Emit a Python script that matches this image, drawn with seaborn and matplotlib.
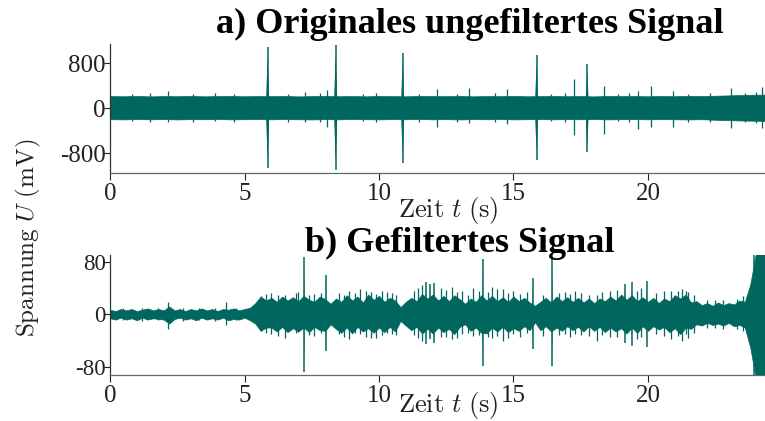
import numpy as np
import matplotlib
matplotlib.use("Agg")
import matplotlib.pyplot as plt
import seaborn as sns

# ---- data ----
# a) raw signal: band envelope sampled every 0.5 s (mV)
raw_step = 0.5
raw_upper = [215, 212, 218, 210, 216, 213, 219, 211, 215, 217,
             212, 216, 214, 218, 210, 215, 219, 213, 216, 211,
             217, 214, 212, 218, 215, 213, 219, 211, 216, 214,
             218, 212, 215, 217, 213, 216, 210, 218, 214, 215,
             212, 217, 213, 219, 216, 222, 228, 235, 240, 242]
raw_lower = [195, 198, 192, 197, 193, 199, 194, 196, 191, 198,
             195, 193, 197, 192, 196, 199, 194, 197, 192, 195,
             198, 193, 196, 191, 197, 194, 199, 193, 196, 192,
             198, 195, 193, 197, 194, 196, 192, 198, 195, 193,
             197, 194, 196, 199, 195, 205, 212, 218, 222, 225]
# spikes in the raw signal: time (s), peak up, peak down (mV)
raw_spike_t = [2.17, 5.86, 7.25, 8.05, 8.39, 10.88, 12.17, 13.36, 14.77, 15.86,
               17.26, 17.74, 18.36, 19.64, 20.10, 20.92, 23.10, 24.22,
               0.8, 1.5, 3.1, 3.9, 4.6, 6.6, 7.8, 9.4, 9.9, 11.5, 12.9,
               14.3, 16.4, 16.9, 18.9, 19.3, 21.5, 22.3, 23.6, 24.0]
raw_spike_up = [313, 1085, 285, 331, 1114, 984, 343, 356, 343, 936,
                521, 788, 402, 313, 391, 313, 356, 374,
                250, 262, 255, 270, 248, 258, 266, 252, 275, 260, 256,
                268, 254, 262, 250, 272, 258, 264, 270, 280]
raw_spike_down = [-249, -1068, -250, -338, -1093, -974, -338, -262, -280, -914,
                  -475, -772, -457, -368, -338, -338, -356, -356,
                  -232, -240, -236, -228, -244, -238, -250, -230, -242, -236, -246,
                  -240, -234, -248, -232, -238, -244, -240, -252, -260]

# b) filtered signal: band envelope sampled every 0.2 s (mV)
filt_step = 0.2
filt_upper = [7, 5, 8, 6, 8, 5, 7, 9, 6, 8,
              6, 12, 6, 8, 5, 8, 6, 9, 6, 8,
              5, 8, 7, 9, 6, 8, 10, 17, 27, 21,
              25, 19, 27, 21, 26, 20, 28, 22, 19, 27,
              23, 16, 24, 19, 29, 21, 27, 18, 30, 22,
              28, 19, 25, 21, 11, 19, 25, 20, 31, 24,
              30, 21, 28, 20, 29, 23, 16, 24, 19, 29,
              21, 28, 20, 26, 19, 27, 20, 25, 18, 13,
              19, 25, 18, 27, 20, 26, 19, 25, 18, 24,
              17, 24, 20, 27, 21, 30, 22, 29, 20, 26,
              19, 25, 17, 24, 20, 29, 24, 30, 18, 20,
              14, 17, 13, 18, 14, 17, 15, 21, 19, 45,
              90, 95, 95]
filt_lower = [6, 8, 5, 8, 6, 9, 5, 8, 6, 7,
              8, 14, 7, 5, 8, 6, 9, 5, 8, 6,
              8, 5, 9, 7, 8, 5, 9, 14, 25, 20,
              20, 26, 19, 27, 21, 26, 20, 27, 19, 24,
              25, 15, 22, 28, 20, 29, 19, 26, 21, 28,
              20, 27, 19, 26, 10, 17, 24, 19, 29, 22,
              29, 20, 27, 22, 30, 19, 15, 25, 20, 28,
              29, 20, 26, 19, 27, 21, 25, 18, 24, 12,
              24, 18, 26, 20, 25, 18, 24, 19, 26, 18,
              25, 19, 27, 20, 26, 21, 29, 20, 28, 18,
              25, 18, 23, 19, 27, 21, 30, 20, 22, 15,
              17, 13, 16, 14, 17, 13, 18, 16, 20, 50,
              95, 95, 95]
filt_spike_t = [2.14, 4.31, 5.62, 7.22, 8.03, 6.0, 6.5, 6.9, 7.6, 8.5,
                8.9, 9.3, 9.7, 10.1, 10.5, 11.6, 11.75, 11.9, 12.05, 12.3,
                12.7, 13.1, 13.5, 13.85, 14.2, 14.6, 15.0, 15.71, 16.44, 16.9,
                17.5, 18.09, 18.6, 19.14, 19.39, 19.95, 20.6, 21.25, 21.4, 22.5,
                23.85, 23.95,
                5.8, 6.25, 7.0, 7.4, 7.85, 8.7, 9.1, 9.5, 9.9, 10.3,
                10.65, 11.3, 11.45, 12.5, 12.9, 13.3, 13.7, 14.05, 14.4, 14.8,
                15.25, 15.5, 16.1, 16.7, 17.1, 17.3, 17.8, 18.3, 18.85, 19.6,
                19.75, 20.3, 20.85, 21.1, 21.5, 21.7, 22.2, 22.8, 23.3, 23.55,
                0.5, 1.2, 1.8, 2.7, 3.3, 3.9, 4.7]
filt_spike_up = [19, 18, 28, 87, 60, 32, 30, 33, 31, 32,
                 35, 38, 34, 36, 33, 45, 49, 46, 48, 40,
                 42, 36, 40, 84, 42, 38, 35, 55, 87, 34,
                 33, 30, 36, 46, 49, 50, 35, 38, 36, 22,
                 46, 90,
                 31, 29, 34, 30, 32, 29, 33, 35, 31, 34,
                 30, 35, 40, 37, 34, 30, 36, 34, 38, 33,
                 31, 34, 30, 33, 31, 35, 29, 34, 37, 36,
                 40, 33, 35, 36, 34, 30, 22, 21, 24, 28,
                 10, 9, 10, 9, 10, 9, 10]
filt_spike_down = [-22, -16, -25, -87, -55, -30, -36, -28, -33, -30,
                   -38, -30, -36, -32, -30, -40, -45, -38, -43, -35,
                   -38, -30, -33, -78, -36, -40, -30, -53, -79, -30,
                   -32, -40, -34, -44, -48, -49, -33, -40, -30, -20,
                   -50, -92,
                   -29, -33, -27, -31, -29, -34, -28, -34, -36, -29,
                   -32, -31, -36, -34, -36, -28, -32, -35, -33, -36,
                   -34, -29, -33, -31, -35, -30, -33, -31, -35, -38,
                   -35, -30, -38, -33, -36, -28, -21, -22, -23, -26,
                   -9, -10, -9, -10, -9, -10, -9]

x_ticks = [0, 5, 10, 15, 20]
raw_yticks = [-800, 0, 800]
filt_yticks = [-80, 0, 80]

# ---- style ----
sns.set_theme(style="ticks")
plt.rcParams["font.family"] = ["Liberation Serif", "DejaVu Serif"]
plt.rcParams["mathtext.fontset"] = "cm"
teal = "#00675F"

fig = plt.figure(figsize=(7.65, 4.21), dpi=100)
ax_a = fig.add_axes([0.1438, 0.589, 0.8562, 0.3065])
ax_b = fig.add_axes([0.1438, 0.1093, 0.8562, 0.285])


def draw_signal(ax, step, upper, lower, sp_t, sp_up, sp_down, big_w):
    t = np.arange(len(upper)) * step
    ax.fill_between(t, upper, -np.asarray(lower), color=teal, linewidth=0.5,
                    edgecolor=teal)
    sp_t = np.asarray(sp_t)
    sp_up = np.asarray(sp_up)
    sp_down = np.asarray(sp_down)
    big = sp_up > 0.5 * sp_up.max()
    ax.vlines(sp_t[~big], sp_down[~big], sp_up[~big], color=teal, linewidth=0.9)
    ax.vlines(sp_t[big], sp_down[big], sp_up[big], color=teal, linewidth=1.1)
    # tapered base of the large spikes
    for tt, up, dn in zip(sp_t[big], sp_up[big], sp_down[big]):
        ax.fill([tt - big_w, tt, tt + big_w], [0, up * 0.85, 0], color=teal, lw=0)
        ax.fill([tt - big_w, tt, tt + big_w], [0, dn * 0.85, 0], color=teal, lw=0)


draw_signal(ax_a, raw_step, raw_upper, raw_lower,
            raw_spike_t, raw_spike_up, raw_spike_down, 0.07)
draw_signal(ax_b, filt_step, filt_upper, filt_lower,
            filt_spike_t, filt_spike_up, filt_spike_down, 0.02)

ax_a.set_ylim(-1150, 1140)
ax_b.set_ylim(-92, 90)
for ax, yt, yfs in [(ax_a, raw_yticks, 18), (ax_b, filt_yticks, 16.5)]:
    ax.set_xlim(0, 24.35)
    ax.set_xticks(x_ticks)
    ax.set_yticks(yt)
    ax.set_yticklabels([str(v) for v in yt])
    ax.tick_params(axis="y", length=4, width=0.8, pad=-1, labelsize=yfs,
                   colors="#222222")
    ax.tick_params(axis="x", length=5, width=0.8, pad=2, labelsize=18,
                   colors="#222222")
    ax.spines["left"].set_color("#333333")
    ax.spines["bottom"].set_color("#666666")
    ax.spines["left"].set_linewidth(0.9)
    ax.spines["bottom"].set_linewidth(0.9)
    ax.set_facecolor("white")
sns.despine(fig=fig)

fig.text(0.6144, 0.943, "a) Originales ungefiltertes Signal", ha="center",
         va="center", fontsize=26, fontweight="bold", color="black")
fig.text(0.601, 0.4228, "b) Gefiltertes Signal", ha="center",
         va="center", fontsize=26, fontweight="bold", color="black")
for yy in [0.50, 0.036]:
    fig.text(0.5856, yy, r"$\mathrm{Zeit}\ t\ \mathrm{(s)}$", ha="center",
             va="center", fontsize=19, color="#222222")
fig.text(0.0366, 0.435, r"$\mathrm{Spannung}\ U\ \mathrm{(mV)}$", rotation=90,
         ha="center", va="center", fontsize=18, color="#222222")

fig.savefig("out.png", dpi=100, facecolor="white")
